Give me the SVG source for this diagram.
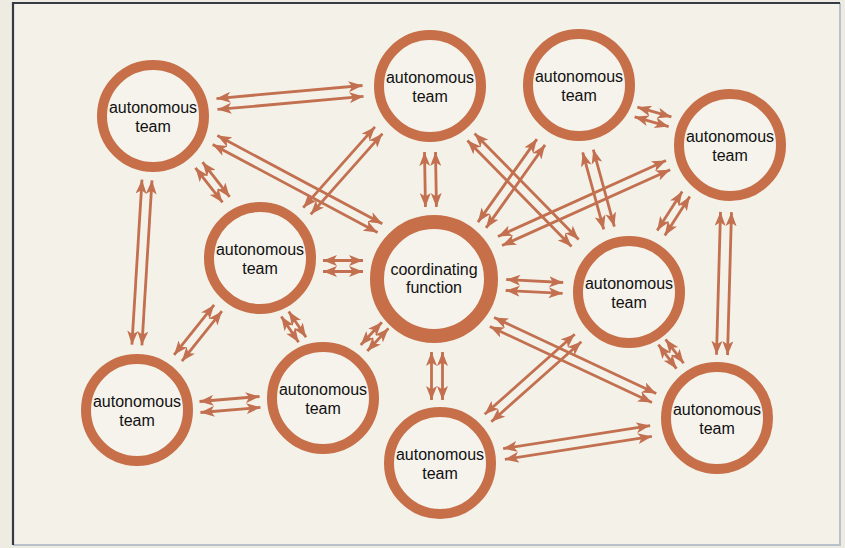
<svg xmlns="http://www.w3.org/2000/svg" width="845" height="548" viewBox="0 0 845 548">
  <defs>
    <marker id="head" viewBox="0 0 14 11" refX="14" refY="5.5" markerWidth="14" markerHeight="11" markerUnits="userSpaceOnUse" orient="auto-start-reverse">
      <path d="M0,0 L14,5.5 L0,11 L3.5,5.5 z" fill="#c2704f"/>
    </marker>
  </defs>
  <style>
    .ring { fill: #f6f3ec; stroke: #c66f48; stroke-width: 10; }
    .hub { fill: #f6f3ec; stroke: #c66f48; stroke-width: 14; }
    .lbl { font-family: "Liberation Sans", Arial, sans-serif; font-size: 16px; fill: #111111; text-anchor: middle; }
    #connectors line { stroke: #c2704f; stroke-width: 2.8; marker-start: url(#head); marker-end: url(#head); }
  </style>

  <!-- page and frame -->
  <rect x="0" y="0" width="845" height="548" fill="#eeebe2"/>
  <rect x="13" y="3" width="827" height="542" fill="#f4f1e9"/>
  <path d="M840,3 L840,545 L13,545" fill="none" stroke="#b9c2cb" stroke-width="2"/>
  <path d="M13,545 L13,3 L840,3" fill="none" stroke="#343b44" stroke-width="2.2"/>

  <!-- paired two-way arrows between teams -->
  <g id="connectors">
    <g transform="translate(217,104) rotate(-5.1)"><line x1="0" y1="-5.5" x2="146.6" y2="-5.5"/><line x1="0" y1="5.5" x2="146.6" y2="5.5"/></g>
    <g transform="translate(215,140) rotate(28.1)"><line x1="0" y1="-5" x2="187" y2="-5"/><line x1="0" y1="5" x2="187" y2="5"/></g>
    <g transform="translate(199,165) rotate(52)"><line x1="0" y1="-4.5" x2="44" y2="-4.5"/><line x1="0" y1="4.5" x2="44" y2="4.5"/></g>
    <g transform="translate(147,180) rotate(93.5)"><line x1="0" y1="-5" x2="165.3" y2="-5"/><line x1="0" y1="5" x2="165.3" y2="5"/></g>
    <g transform="translate(307,211) rotate(-48.4)"><line x1="0" y1="-5" x2="108" y2="-5"/><line x1="0" y1="5" x2="108" y2="5"/></g>
    <g transform="translate(430,152) rotate(89)"><line x1="0" y1="-5.5" x2="55" y2="-5.5"/><line x1="0" y1="5.5" x2="55" y2="5.5"/></g>
    <g transform="translate(471,137) rotate(45.5)"><line x1="0" y1="-5" x2="148.5" y2="-5"/><line x1="0" y1="5" x2="148.5" y2="5"/></g>
    <g transform="translate(482,225) rotate(-54.6)"><line x1="0" y1="-5" x2="101.8" y2="-5"/><line x1="0" y1="5" x2="101.8" y2="5"/></g>
    <g transform="translate(588,151) rotate(74.7)"><line x1="0" y1="-5.5" x2="79.8" y2="-5.5"/><line x1="0" y1="5.5" x2="79.8" y2="5.5"/></g>
    <g transform="translate(636,112) rotate(16)"><line x1="0" y1="-5" x2="35.4" y2="-5"/><line x1="0" y1="5" x2="35.4" y2="5"/></g>
    <g transform="translate(500,241) rotate(-24.3)"><line x1="0" y1="-5" x2="184.4" y2="-5"/><line x1="0" y1="5" x2="184.4" y2="5"/></g>
    <g transform="translate(661,233) rotate(-57.3)"><line x1="0" y1="-4.5" x2="46.3" y2="-4.5"/><line x1="0" y1="4.5" x2="46.3" y2="4.5"/></g>
    <g transform="translate(726,212) rotate(91.6)"><line x1="0" y1="-5.5" x2="143" y2="-5.5"/><line x1="0" y1="5.5" x2="143" y2="5.5"/></g>
    <g transform="translate(323,266)"><line x1="0" y1="-5.5" x2="40" y2="-5.5"/><line x1="0" y1="5.5" x2="40" y2="5.5"/></g>
    <g transform="translate(178,358) rotate(-51.3)"><line x1="0" y1="-5" x2="64" y2="-5"/><line x1="0" y1="5" x2="64" y2="5"/></g>
    <g transform="translate(285,314) rotate(56)"><line x1="0" y1="-4.5" x2="31" y2="-4.5"/><line x1="0" y1="4.5" x2="31" y2="4.5"/></g>
    <g transform="translate(364,348) rotate(-47)"><line x1="0" y1="-4.5" x2="31" y2="-4.5"/><line x1="0" y1="4.5" x2="31" y2="4.5"/></g>
    <g transform="translate(437,352) rotate(90)"><line x1="0" y1="-5.5" x2="48" y2="-5.5"/><line x1="0" y1="5.5" x2="48" y2="5.5"/></g>
    <g transform="translate(506,285) rotate(3)"><line x1="0" y1="-5.5" x2="57" y2="-5.5"/><line x1="0" y1="5.5" x2="57" y2="5.5"/></g>
    <g transform="translate(492,322) rotate(25.1)"><line x1="0" y1="-5" x2="179" y2="-5"/><line x1="0" y1="5" x2="179" y2="5"/></g>
    <g transform="translate(488,418) rotate(-41.6)"><line x1="0" y1="-5" x2="120.4" y2="-5"/><line x1="0" y1="5" x2="120.4" y2="5"/></g>
    <g transform="translate(662,342) rotate(53)"><line x1="0" y1="-4.5" x2="30" y2="-4.5"/><line x1="0" y1="4.5" x2="30" y2="4.5"/></g>
    <g transform="translate(200,407) rotate(-4.8)"><line x1="0" y1="-5.5" x2="60.2" y2="-5.5"/><line x1="0" y1="5.5" x2="60.2" y2="5.5"/></g>
    <g transform="translate(504,454) rotate(-8.9)"><line x1="0" y1="-5.5" x2="148.8" y2="-5.5"/><line x1="0" y1="5.5" x2="148.8" y2="5.5"/></g>
  </g>

  <!-- teams -->
  <g id="team-a"><circle class="ring" cx="153" cy="116" r="51"/><text class="lbl" x="153" y="113">autonomous</text><text class="lbl" x="153" y="132">team</text></g>
  <g id="team-b"><circle class="ring" cx="430" cy="86" r="51"/><text class="lbl" x="430" y="83">autonomous</text><text class="lbl" x="430" y="102">team</text></g>
  <g id="team-c"><circle class="ring" cx="579" cy="85" r="51"/><text class="lbl" x="579" y="82">autonomous</text><text class="lbl" x="579" y="101">team</text></g>
  <g id="team-d"><circle class="ring" cx="730" cy="145" r="51"/><text class="lbl" x="730" y="142">autonomous</text><text class="lbl" x="730" y="161">team</text></g>
  <g id="team-e"><circle class="ring" cx="260" cy="258" r="51"/><text class="lbl" x="260" y="255">autonomous</text><text class="lbl" x="260" y="274">team</text></g>
  <g id="coordinator"><circle class="hub" cx="434" cy="279" r="57"/><text class="lbl" x="434" y="275">coordinating</text><text class="lbl" x="434" y="293">function</text></g>
  <g id="team-g"><circle class="ring" cx="629" cy="292" r="51"/><text class="lbl" x="629" y="289">autonomous</text><text class="lbl" x="629" y="308">team</text></g>
  <g id="team-h"><circle class="ring" cx="137" cy="410" r="51"/><text class="lbl" x="137" y="407">autonomous</text><text class="lbl" x="137" y="426">team</text></g>
  <g id="team-i"><circle class="ring" cx="323" cy="398" r="51"/><text class="lbl" x="323" y="395">autonomous</text><text class="lbl" x="323" y="414">team</text></g>
  <g id="team-j"><circle class="ring" cx="440" cy="463" r="51"/><text class="lbl" x="440" y="460">autonomous</text><text class="lbl" x="440" y="479">team</text></g>
  <g id="team-k"><circle class="ring" cx="717" cy="418" r="51"/><text class="lbl" x="717" y="415">autonomous</text><text class="lbl" x="717" y="434">team</text></g>
</svg>
